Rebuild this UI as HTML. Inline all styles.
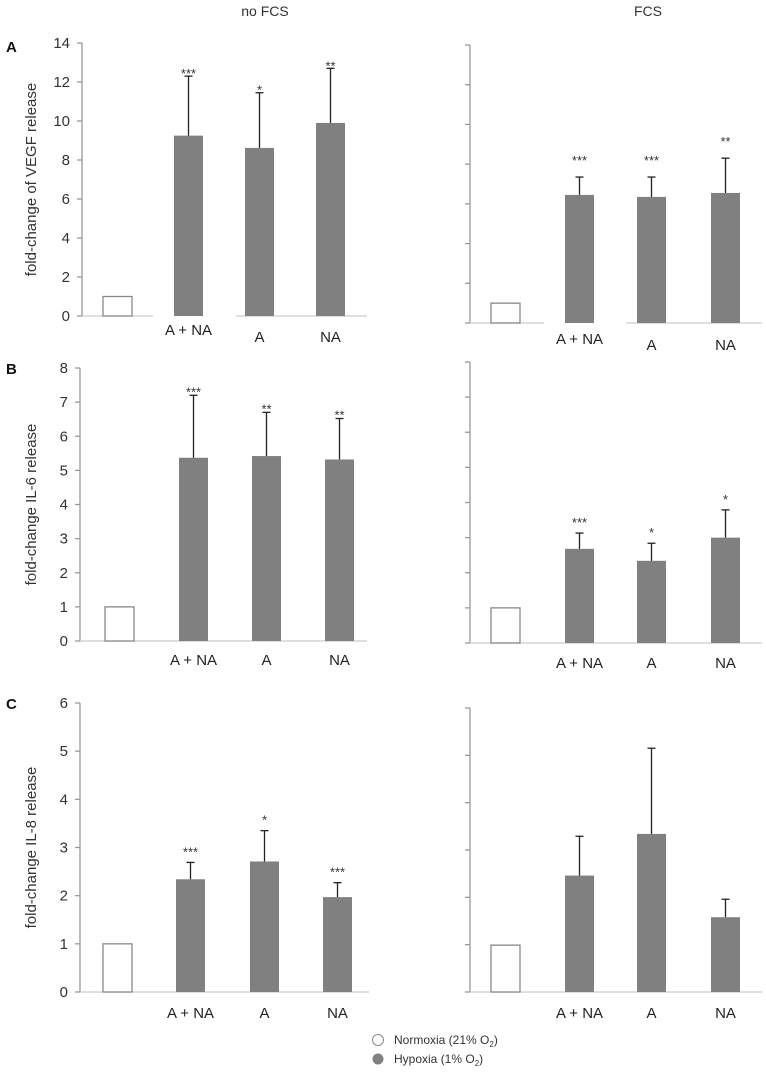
<!DOCTYPE html>
<html><head><meta charset="utf-8"><style>
body{margin:0;background:#fff;}
svg{display:block;font-family:"Liberation Sans",sans-serif;}
</style></head><body>
<svg id="fig" width="766" height="1072"></svg>
<script>
const categories=["Normoxia","A + NA","A","NA"];
const vegfNoFcs=[1,9.25,8.62,9.9];
const vegfNoFcsErr=[0,12.3,11.45,12.7];
const vegfFcs=[1,6.45,6.35,6.55];
const vegfFcsErr=[0,7.35,7.35,8.3];
const il6NoFcs=[1,5.37,5.42,5.32];
const il6NoFcsErr=[0,7.2,6.7,6.52];
const il6Fcs=[1,2.68,2.34,3.0];
const il6FcsErr=[0,3.13,2.84,3.79];
const il8NoFcs=[1,2.34,2.71,1.97];
const il8NoFcsErr=[0,2.69,3.35,2.27];
const il8Fcs=[0.99,2.46,3.34,1.58];
const il8FcsErr=[0,3.29,5.15,1.96];
const vegfNoFcsStars=["","***","*","**"];
const vegfFcsStars=["","***","***","**"];
const il6NoFcsStars=["","***","**","**"];
const il6FcsStars=["","***","*","*"];
const il8NoFcsStars=["","***","*","***"];
const il8FcsStars=["","","",""];
const vegfTicks=[0,2,4,6,8,10,12,14];
const il6Ticks=[0,1,2,3,4,5,6,7,8];
const il8Ticks=[0,1,2,3,4,5,6];

const NS="http://www.w3.org/2000/svg";
const svg=document.getElementById('fig');
function mk(tag,attrs,parent,txt){const e=document.createElementNS(NS,tag);for(const k in attrs)e.setAttribute(k,attrs[k]);if(txt!==undefined)e.textContent=txt;(parent||svg).appendChild(e);return e;}

function panel(o){
  const g=mk('g',{});
  
  
  const max=o.ticks[o.ticks.length-1];
  const y=v=>o.y0-(o.y0-o.yTop)*v/max;
  const ax=mk('line',{x1:o.ax,y1:o.yTop,x2:o.ax,y2:o.y0,stroke:'#999','stroke-width':1.3},g);
  
  
  o.ticks.forEach(t=>{
    mk('line',{x1:o.ax-5,y1:y(t),x2:o.ax,y2:y(t),stroke:'#999','stroke-width':1.3},g);
    if(o.labels){const tl=mk('text',{x:o.ax-12,y:y(t)+5,'text-anchor':'end','font-size':15,fill:'#333'},g,String(t));
      
      }
  });
  o.base.forEach(s=>{const b=mk('line',{x1:s[0],y1:o.y0,x2:s[1],y2:o.y0,stroke:'#ccc','stroke-width':1.3},g);
    
    });
  o.vals.forEach((v,i)=>{
    const x=o.bx[i],w=29;
    const r=mk('rect',{x:x,y:y(v),width:w,height:o.y0-y(v),fill:i?'#808080':'#fff',stroke:i?'none':'#888','stroke-width':1.3},g);
    
    
    if(o.err[i]>v){
      const cx=x+w/2;
      mk('line',{x1:cx,y1:y(v),x2:cx,y2:y(o.err[i]),stroke:'#222','stroke-width':1.3},g);
      const c=mk('line',{x1:cx-4,y1:y(o.err[i]),x2:cx+4,y2:y(o.err[i]),stroke:'#222','stroke-width':1.3},g);
      
      
    }
    if(o.stars[i]){const s=mk('text',{x:x+w/2,y:y(o.err[i])-o.starGap,'text-anchor':'middle','font-size':13,fill:'#333'},g,o.stars[i]);
      
      }
    if(i>0){const l=mk('text',{x:x+w/2,y:o.lblY[i],'text-anchor':'middle','font-size':15,fill:'#222'},g,categories[i]);
      
      }
  });
  if(o.ylabel){const t=mk('text',{transform:`translate(${o.ylx},${(o.y0+o.yTop)/2}) rotate(-90)`,'text-anchor':'middle','font-size':15,fill:'#333'},g,o.ylabel);
    
    }
}
const LBX=[103,174,245,316], RBX=[491,565,637,711];
const LBXB=[105,179,252,325], LBXC=[103,176,250,323];
panel({name:'panel-a-no-fcs',ax:82,y0:316,yTop:43,ticks:vegfTicks,labels:true,vals:vegfNoFcs,err:vegfNoFcsErr,stars:vegfNoFcsStars,bx:LBX,base:[[82,153],[236,367]],lblY:[0,335,342,342],starGap:-2,ylabel:'fold-change of VEGF release',ylx:36});
panel({name:'panel-a-fcs',ax:470,y0:323,yTop:45,ticks:vegfTicks,labels:false,vals:vegfFcs,err:vegfFcsErr,stars:vegfFcsStars,bx:RBX,base:[[470,544],[626,762]],lblY:[0,344,350,350],starGap:12});
panel({name:'panel-b-no-fcs',ax:80,y0:641,yTop:368,ticks:il6Ticks,labels:true,vals:il6NoFcs,err:il6NoFcsErr,stars:il6NoFcsStars,bx:LBXB,base:[[80,367]],lblY:[0,665,665,665],starGap:-1,ylabel:'fold-change IL-6 release',ylx:36});
panel({name:'panel-b-fcs',ax:470,y0:643,yTop:362,ticks:il6Ticks,labels:false,vals:il6Fcs,err:il6FcsErr,stars:il6FcsStars,bx:RBX,base:[[470,762]],lblY:[0,668,668,668],starGap:6});
panel({name:'panel-c-no-fcs',ax:80,y0:992,yTop:703,ticks:il8Ticks,labels:true,vals:il8NoFcs,err:il8NoFcsErr,stars:il8NoFcsStars,bx:LBXC,base:[[80,369]],lblY:[0,1018,1018,1018],starGap:6,ylabel:'fold-change IL-8 release',ylx:36});
panel({name:'panel-c-fcs',ax:470,y0:992,yTop:708,ticks:il8Ticks,labels:false,vals:il8Fcs,err:il8FcsErr,stars:il8FcsStars,bx:RBX,base:[[470,762]],lblY:[0,1018,1018,1018],starGap:6});

function txt(name,attrs,s){const t=mk('text',attrs,svg,s);return t;}
txt('column-title-no-fcs',{x:265,y:16,'text-anchor':'middle','font-size':14,fill:'#333'},'no FCS');
txt('column-title-fcs',{x:648,y:16,'text-anchor':'middle','font-size':14,fill:'#333'},'FCS');
txt('panel-label-a',{x:6,y:52,'font-size':15,'font-weight':'bold',fill:'#111'},'A');
txt('panel-label-b',{x:6,y:374,'font-size':15,'font-weight':'bold',fill:'#111'},'B');
txt('panel-label-c',{x:6,y:709,'font-size':15,'font-weight':'bold',fill:'#111'},'C');
const lg=mk('g',{});


const c1=mk('circle',{cx:378,cy:1040,r:5.5,fill:'#fff',stroke:'#888','stroke-width':1},lg);


const t1=mk('text',{x:394,y:1044,'font-size':12,fill:'#333'},lg);


t1.innerHTML='Normoxia (21% O<tspan font-size="8" dy="3">2</tspan><tspan dy="-3">)</tspan>';
const c2=mk('circle',{cx:378,cy:1059,r:5.5,fill:'#808080'},lg);


const t2=mk('text',{x:394,y:1063,'font-size':12,fill:'#333'},lg);


t2.innerHTML='Hypoxia  (1% O<tspan font-size="8" dy="3">2</tspan><tspan dy="-3">)</tspan>';
</script>
</body></html>
